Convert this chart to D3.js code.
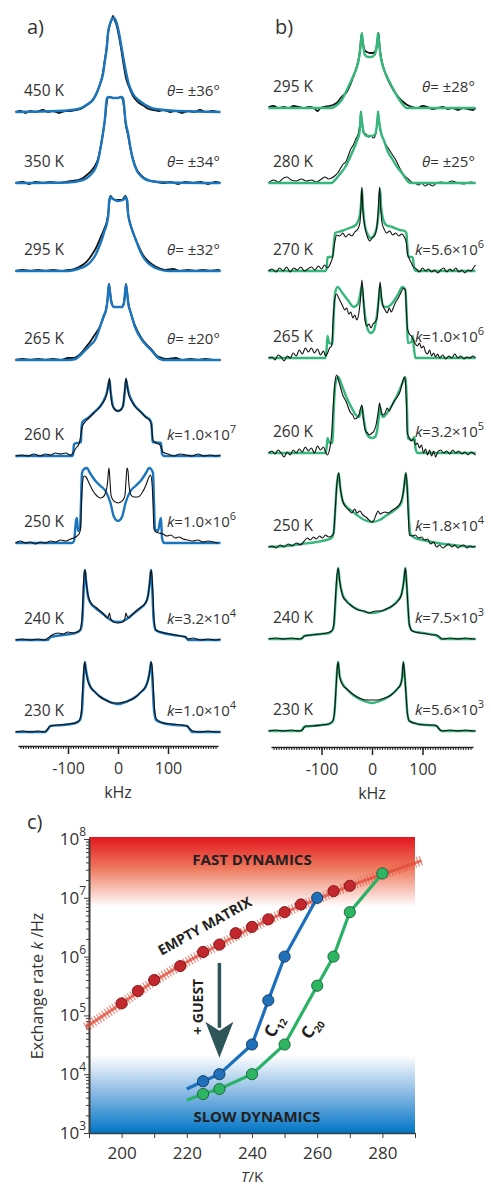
<!DOCTYPE html>
<html>
<head>
<meta charset="utf-8">
<script src="https://cdn.jsdelivr.net/npm/d3@7"></script>
<style>
  body { margin: 0; background: #fff; }
  svg { display: block; font-family: "Open Sans", sans-serif; }
</style>
</head>
<body>
<svg id="fig" width="491" height="1187"></svg>
<script>
// ---------- panel a / b labels ----------
const tempsA = ["450 K", "350 K", "295 K", "265 K", "260 K", "250 K", "240 K", "230 K"];
const paramsA = [["θ", "36"], ["θ", "34"], ["θ", "32"], ["θ", "20"], ["k", "1.0", "7"], ["k", "1.0", "6"], ["k", "3.2", "4"], ["k", "1.0", "4"]];
const tempsB = ["295 K", "280 K", "270 K", "265 K", "260 K", "250 K", "240 K", "230 K"];
const paramsB = [["θ", "28"], ["θ", "25"], ["k", "5.6", "6"], ["k", "1.0", "6"], ["k", "3.2", "5"], ["k", "1.8", "4"], ["k", "7.5", "3"], ["k", "5.6", "3"]];
const specTicks = [-100, 0, 100];

// ---------- panel a spectra: [kHz, intensity] ----------
const fitA450 = [[-205,0],[-120,1],[-80,3],[-60,8],[-50,12],[-40,22],[-35,29],[-30,38],[-26,52],[-22,66],[-20,79],[-16,88],[-12,93],[-9,94],[-6,93],[-2,88],[2,79],[8,62],[14,45],[21,29],[30,18],[41,12],[55,7],[75,3],[120,1],[205,0]];
const expA450 = [[-205,0],[-195,1],[-185,-1],[-175,1],[-165,0],[-150,2],[-140,0],[-130,1],[-118,-1],[-105,1],[-95,1],[-85,2],[-75,3],[-65,6],[-55,10],[-48,14],[-42,20],[-36,28],[-31,37],[-27,50],[-23,64],[-20,78],[-16,88],[-12,93],[-10,96],[-7,92],[-3,87],[1,78],[6,64],[11,48],[16,34],[22,25],[30,16],[40,10],[52,6],[62,3],[72,2],[82,1],[92,2],[104,0],[116,1],[128,-1],[140,1],[152,0],[164,2],[176,0],[188,1],[200,0]];
const fitA350 = [[-205,0],[-100,0.5],[-70,3],[-55,8],[-45,15],[-40,22],[-35,35],[-30,50],[-26,65],[-24,78],[-22,85],[-18,86],[-10,85],[-2,85],[6,86],[10,85],[12,78],[15,62],[20,50],[25,35],[30,23],[38,12],[48,6],[65,2],[100,0.5],[205,0]];
const expA350 = [[-205,0],[-190,1],[-178,-1],[-165,1],[-150,0],[-135,1],[-120,0],[-105,1],[-92,2],[-80,3],[-70,5],[-60,9],[-52,13],[-45,18],[-40,24],[-35,35],[-30,50],[-26,64],[-23,78],[-21,85],[-16,86],[-8,85],[0,85],[6,86],[9,84],[12,76],[15,60],[20,48],[25,34],[30,24],[37,14],[46,8],[56,4],[66,2],[78,1],[90,0],[105,1],[120,-1],[135,1],[150,0],[165,1],[180,-1],[195,1],[205,0]];
const fitA295 = [[-205,0],[-100,0],[-80,2],[-65,5],[-55,9],[-45,16],[-38,24],[-32,32],[-27,40],[-22,48],[-19,58],[-18,68],[-16,74],[-10,72],[0,70],[10,71],[16,74],[19,68],[20,58],[24,48],[29,40],[35,32],[41,24],[48,16],[58,9],[68,5],[80,2],[100,0],[205,0]];
const expA295 = [[-205,0],[-190,1],[-175,0],[-160,1],[-145,0],[-130,1],[-115,0],[-100,1],[-88,2],[-78,4],[-68,7],[-58,12],[-50,18],[-43,24],[-37,31],[-31,38],[-26,44],[-22,50],[-19,60],[-17,70],[-15,75],[-10,72],[-2,71],[8,71],[15,75],[18,68],[20,58],[24,48],[29,40],[35,32],[42,24],[50,16],[60,10],[70,6],[82,3],[95,1],[110,2],[125,0],[140,1],[155,0],[170,1],[185,0],[200,1],[205,0]];
const fitA265 = [[-205,0],[-100,0],[-85,1],[-75,5],[-65,10],[-55,15],[-46,20],[-36,33],[-28,45],[-24,50],[-21,60],[-19,72],[-18,75],[-16,68],[-13,57],[-8,53],[-1,53],[8,53],[12,57],[15,72],[16,75],[18,68],[21,55],[25,48],[34,33],[48,20],[58,14],[68,9],[78,3],[90,0],[205,0]];
const expA265 = [[-205,0],[-190,1],[-175,0],[-160,1],[-145,0],[-130,1],[-115,0],[-100,2],[-88,2],[-80,4],[-72,8],[-64,13],[-56,18],[-48,24],[-40,30],[-34,36],[-28,44],[-24,50],[-21,60],[-19,72],[-18,76],[-16,68],[-13,58],[-8,53],[0,53],[8,53],[12,58],[15,72],[16,76],[18,68],[21,56],[25,48],[32,37],[40,28],[48,21],[58,15],[68,10],[78,4],[88,2],[100,1],[115,2],[130,0],[145,1],[160,0],[175,1],[190,0],[205,0]];
const fitA260 = [[-205,0],[-92,0],[-90,1],[-88,12],[-74,14],[-73,28],[-71,34],[-60,38],[-45,45],[-35,50],[-28,56],[-22,64],[-19,72],[-17,76],[-15,66],[-10,50],[-5,46],[0,45],[5,46],[10,50],[14,66],[16,76],[18,72],[21,64],[27,56],[34,50],[44,45],[56,39],[64,36],[67,32],[69,14],[86,13],[88,2],[92,0],[205,0]];
const expA260 = [[-205,0],[-192,1],[-180,0],[-168,2],[-156,0],[-145,2],[-135,1],[-125,3],[-115,2],[-105,3],[-95,1],[-90,3],[-84,8],[-78,12],[-74,22],[-71,30],[-64,35],[-56,39],[-48,43],[-40,47],[-32,52],[-26,57],[-22,63],[-19,72],[-17,78],[-15,64],[-11,50],[-5,46],[0,45],[5,46],[10,50],[13,64],[16,78],[18,72],[21,62],[27,55],[35,49],[45,44],[55,39],[64,35],[67,30],[70,16],[76,13],[84,11],[90,4],[100,2],[112,0],[124,2],[136,1],[148,0],[160,2],[172,0],[184,1],[196,0],[205,1]];
const fitA250 = [[-205,0],[-92,0],[-88,2],[-84,22],[-82,25],[-80,12],[-76,14],[-74,40],[-72,70],[-68,74],[-62,75],[-56,70],[-45,62],[-35,57],[-25,52],[-15,40],[-8,26],[0,22],[8,26],[15,40],[25,52],[35,57],[45,62],[56,70],[62,75],[66,74],[70,70],[72,40],[74,14],[80,12],[84,22],[86,25],[88,5],[92,0],[205,0]];
const expA250 = [[-205,0],[-195,2],[-185,0],[-175,1],[-165,-1],[-155,1],[-145,0],[-135,2],[-125,1],[-115,3],[-105,2],[-95,4],[-88,5],[-82,7],[-78,9],[-75,14],[-73,40],[-71,60],[-68,67],[-64,66],[-58,60],[-50,52],[-42,47],[-36,45],[-30,46],[-25,50],[-21,60],[-19,72],[-18,75],[-16,62],[-14,48],[-10,43],[-5,41],[0,40],[5,41],[10,43],[14,48],[16,62],[18,75],[20,72],[22,58],[26,48],[32,46],[40,46],[48,50],[56,58],[62,66],[65,68],[68,60],[70,40],[72,14],[76,11],[82,10],[90,9],[98,7],[106,8],[114,5],[122,6],[130,4],[140,3],[150,2],[160,3],[170,1],[180,2],[190,1],[200,0]];
const fitA240 = [[-205,0],[-140,0],[-135,3],[-110,5],[-85,7],[-75,10],[-71,22],[-69,45],[-67,65],[-66,70],[-64,60],[-60,44],[-55,37],[-45,32],[-35,28],[-25,24],[-15,20],[0,18],[15,20],[25,24],[35,28],[45,32],[55,37],[60,44],[64,60],[66,70],[67,65],[69,45],[71,22],[75,10],[90,7],[110,5],[135,3],[140,0],[205,0]];
const expA240 = [[-205,0],[-190,1],[-175,0],[-160,1],[-148,0],[-140,2],[-132,5],[-120,7],[-110,6],[-100,8],[-90,7],[-82,8],[-76,10],[-72,22],[-70,45],[-68,65],[-66,70],[-64,60],[-60,45],[-55,38],[-45,33],[-35,29],[-27,25],[-22,22],[-19,24],[-17,27],[-15,22],[-10,18],[0,17],[10,18],[14,22],[16,27],[18,24],[22,22],[28,25],[36,29],[46,33],[55,37],[60,44],[64,60],[66,70],[68,64],[70,45],[72,22],[76,10],[85,8],[95,7],[105,6],[115,5],[125,4],[135,3],[140,1],[150,2],[165,0],[180,1],[195,0],[205,1]];
const fitA230 = [[-205,0],[-145,0],[-140,3],[-135,6],[-110,7],[-85,9],[-76,12],[-72,22],[-70,40],[-68,60],[-66,70],[-64,62],[-60,52],[-55,45],[-46,40],[-35,35],[-20,31],[0,28],[20,31],[35,35],[46,40],[55,45],[60,52],[64,62],[66,70],[68,60],[70,40],[72,22],[76,12],[90,9],[115,7],[138,6],[143,3],[148,0],[205,0]];
const expA230 = [[-205,0],[-190,1],[-175,0],[-160,1],[-148,0],[-142,2],[-136,6],[-120,7],[-100,8],[-85,9],[-77,12],[-73,22],[-71,40],[-69,58],[-67,70],[-65,64],[-61,52],[-56,46],[-48,41],[-38,36],[-25,32],[-12,29],[0,29],[12,30],[25,32],[38,36],[48,41],[56,46],[61,53],[65,66],[67,70],[69,60],[71,42],[73,24],[77,13],[90,9],[110,8],[128,7],[138,6],[144,3],[150,1],[165,0],[180,1],[195,0],[205,0]];

// ---------- panel b spectra ----------
const fitB295 = [[-205,0],[-80,0],[-72,2],[-60,8],[-47,21],[-38,31],[-30,41],[-25,52],[-22,65],[-20,75],[-18,65],[-14,53],[-8,51],[-2,51],[5,53],[10,65],[12,75],[14,65],[17,52],[22,41],[30,31],[40,21],[52,10],[62,3],[68,0],[205,0]];
const expB295 = [[-205,1],[-195,2],[-185,0],[-175,1],[-165,0],[-155,2],[-145,1],[-135,0],[-125,1],[-115,0],[-108,-3],[-102,0],[-95,1],[-85,2],[-78,3],[-70,5],[-62,10],[-56,13],[-50,16],[-44,22],[-38,30],[-31,40],[-26,50],[-23,62],[-21,73],[-19,68],[-15,58],[-10,56],[-4,55],[2,55],[8,58],[11,68],[13,75],[15,62],[18,50],[23,40],[30,30],[38,22],[46,15],[54,10],[62,6],[70,3],[80,1],[90,0],[100,2],[110,1],[120,-1],[130,0],[140,1],[150,-1],[160,0],[170,-2],[180,0],[190,-1],[200,-2],[205,0]];
const fitB280 = [[-205,0],[-80,0],[-75,2],[-65,8],[-53,16],[-45,24],[-37,33],[-30,42],[-25,50],[-23,62],[-22,71],[-20,62],[-16,50],[-10,47],[-3,47],[5,48],[9,55],[11,65],[12,71],[14,62],[18,50],[24,42],[30,33],[40,24],[50,16],[62,8],[72,1],[78,0],[205,0]];
const expB280 = [[-205,0],[-195,3],[-185,1],[-175,5],[-168,6],[-160,3],[-150,2],[-140,4],[-130,2],[-120,3],[-110,1],[-100,4],[-93,6],[-86,4],[-80,5],[-74,7],[-68,10],[-62,15],[-57,19],[-52,21],[-47,27],[-42,34],[-37,38],[-32,44],[-27,50],[-24,60],[-22,72],[-20,60],[-17,50],[-12,49],[-7,46],[-2,47],[3,45],[8,50],[10,60],[12,72],[14,60],[17,51],[22,45],[27,39],[32,35],[37,31],[42,27],[47,23],[52,18],[57,13],[62,9],[67,6],[72,4],[78,1],[85,0],[92,-2],[98,0],[105,-3],[112,-1],[120,-3],[128,0],[138,1],[148,0],[158,2],[170,0],[182,-1],[195,1],[205,0]];
const fitB270 = [[-205,0],[-92,0],[-90,2],[-88,14],[-78,14],[-76,25],[-73,38],[-60,40],[-45,43],[-32,46],[-26,52],[-22,65],[-20,82],[-18,65],[-14,45],[-8,36],[-2,33],[4,36],[10,45],[14,65],[16,82],[18,65],[22,52],[28,46],[40,44],[55,41],[65,40],[68,38],[70,25],[72,14],[80,14],[84,2],[86,0],[205,0]];
const expB270 = [[-205,0],[-198,2],[-190,-1],[-183,3],[-176,0],[-169,4],[-162,-1],[-155,3],[-148,1],[-141,4],[-134,0],[-127,2],[-120,4],[-113,1],[-106,5],[-100,2],[-94,6],[-88,3],[-82,8],[-78,14],[-74,28],[-70,36],[-64,35],[-58,38],[-52,34],[-46,37],[-40,35],[-34,39],[-28,42],[-24,48],[-22,62],[-20,84],[-18,60],[-14,44],[-9,34],[-4,30],[0,33],[5,35],[9,42],[12,58],[15,84],[17,64],[20,48],[24,42],[29,38],[35,40],[41,36],[47,38],[53,35],[59,37],[64,34],[68,28],[70,18],[74,12],[78,8],[82,4],[88,2],[94,-1],[100,3],[106,0],[112,2],[118,-1],[124,1],[130,-2],[136,1],[142,3],[148,-1],[154,2],[160,0],[166,3],[172,-1],[178,1],[184,-2],[190,1],[196,0],[202,4],[205,6]];
const fitB265 = [[-205,0],[-92,0],[-90,8],[-88,22],[-85,15],[-78,14],[-76,40],[-73,65],[-68,71],[-60,66],[-48,58],[-36,51],[-28,54],[-24,62],[-20,72],[-18,62],[-13,40],[-8,28],[-2,25],[4,28],[9,40],[14,62],[16,72],[18,62],[22,52],[30,51],[42,56],[52,64],[60,71],[66,68],[69,40],[71,15],[78,16],[81,22],[83,10],[86,0],[205,0]];
const expB265 = [[-205,0],[-198,1],[-192,-2],[-186,3],[-180,1],[-174,-3],[-168,2],[-162,0],[-156,5],[-150,2],[-144,8],[-138,4],[-132,10],[-126,6],[-120,10],[-114,5],[-108,9],[-102,3],[-96,7],[-92,2],[-88,5],[-84,10],[-80,12],[-77,38],[-74,58],[-70,64],[-66,60],[-62,56],[-58,52],[-54,48],[-50,50],[-46,44],[-42,46],[-38,40],[-34,43],[-30,38],[-26,45],[-23,58],[-20,78],[-17,60],[-14,38],[-10,32],[-6,34],[-2,30],[2,34],[6,36],[10,40],[13,58],[16,76],[19,60],[22,52],[26,48],[30,45],[34,50],[38,46],[42,50],[46,55],[52,60],[58,66],[62,70],[66,68],[68,48],[70,30],[74,24],[78,22],[82,18],[86,14],[90,12],[94,15],[98,10],[102,12],[106,6],[110,4],[114,8],[118,2],[122,5],[126,1],[130,4],[134,0],[140,3],[146,-1],[152,2],[158,0],[164,4],[170,0],[176,2],[182,-1],[188,1],[194,0],[200,2],[205,0]];
const fitB260 = [[-205,0],[-92,0],[-90,5],[-88,15],[-84,10],[-78,10],[-76,40],[-72,70],[-67,76],[-60,68],[-50,55],[-40,45],[-32,38],[-26,36],[-22,42],[-20,46],[-17,36],[-12,22],[-6,16],[0,15],[6,16],[10,22],[14,38],[16,46],[18,40],[22,36],[30,40],[40,48],[52,60],[62,72],[66,76],[69,50],[71,15],[80,13],[84,16],[86,5],[90,0],[205,0]];
const expB260 = [[-205,0],[-198,2],[-192,-1],[-186,3],[-180,0],[-174,-4],[-168,1],[-162,-2],[-156,3],[-150,0],[-144,4],[-138,1],[-132,6],[-126,2],[-120,5],[-114,0],[-108,7],[-102,3],[-96,6],[-92,1],[-88,-2],[-84,4],[-80,18],[-77,45],[-74,68],[-70,78],[-66,72],[-62,65],[-58,58],[-54,54],[-50,50],[-46,44],[-42,40],[-38,38],[-34,34],[-30,35],[-26,38],[-23,44],[-20,48],[-17,34],[-13,22],[-9,20],[-5,18],[0,20],[4,22],[8,28],[12,40],[15,50],[18,42],[22,38],[26,40],[30,45],[34,42],[38,46],[44,52],[50,56],[56,62],[60,70],[64,76],[66,72],[68,52],[70,20],[74,15],[78,12],[82,14],[86,8],[90,10],[94,5],[98,8],[102,0],[106,4],[110,-2],[114,3],[118,-3],[122,2],[126,-4],[130,1],[136,3],[142,0],[148,2],[154,-1],[160,3],[166,0],[172,2],[178,-1],[184,1],[190,-2],[196,1],[205,-2]];
const fitB250 = [[-205,0],[-170,1],[-140,3],[-110,5],[-90,7],[-80,9],[-76,14],[-73,35],[-70,60],[-66,74],[-63,60],[-58,46],[-50,40],[-40,36],[-30,32],[-15,27],[0,25],[15,27],[30,32],[40,35],[50,39],[58,44],[63,58],[67,74],[70,58],[73,30],[76,13],[85,9],[100,7],[130,4],[160,2],[205,0]];
const expB250 = [[-205,0],[-198,1],[-190,-1],[-182,2],[-174,0],[-166,3],[-158,1],[-150,4],[-142,2],[-134,6],[-128,9],[-122,7],[-116,10],[-110,8],[-104,11],[-98,9],[-92,12],[-86,10],[-80,11],[-76,14],[-73,35],[-70,60],[-66,74],[-63,60],[-58,46],[-52,40],[-46,37],[-40,34],[-34,38],[-30,34],[-24,36],[-18,32],[-12,30],[-6,27],[0,25],[4,27],[8,32],[12,36],[16,33],[20,34],[26,35],[32,34],[38,36],[44,38],[50,40],[56,44],[61,52],[64,62],[67,74],[70,56],[72,30],[74,12],[80,11],[86,12],[92,9],[98,10],[104,7],[110,8],[116,3],[122,5],[128,0],[134,2],[140,-1],[146,1],[152,3],[158,0],[164,2],[170,-1],[176,1],[182,2],[188,-1],[194,1],[200,0],[205,1]];
const fitB240 = [[-205,0],[-140,0],[-135,3],[-120,4],[-100,5],[-85,6],[-78,9],[-75,16],[-72,40],[-69,62],[-67,71],[-64,58],[-58,44],[-50,38],[-40,33],[-25,29],[0,26],[25,29],[40,33],[50,38],[58,44],[63,58],[66,71],[68,60],[71,35],[74,14],[80,8],[100,6],[125,4],[132,2],[137,0],[205,0]];
const expB240 = [[-205,0],[-190,1],[-175,0],[-160,1],[-145,0],[-138,1],[-133,3],[-120,4],[-105,5],[-90,6],[-80,8],[-76,13],[-73,35],[-70,60],[-67,71],[-64,58],[-58,43],[-50,37],[-40,33],[-28,29],[-15,28],[-5,26],[0,27],[8,28],[18,28],[28,30],[40,33],[50,37],[58,44],[63,58],[66,71],[68,60],[71,35],[74,14],[80,8],[95,6],[110,5],[120,4],[128,4],[134,2],[140,0],[155,1],[170,0],[185,1],[200,0],[205,0]];
const fitB230 = [[-205,0],[-140,0],[-135,4],[-120,5],[-100,6],[-85,7],[-77,10],[-74,20],[-71,45],[-69,62],[-67,69],[-64,55],[-58,47],[-50,42],[-35,35],[-15,30],[0,28],[15,30],[35,35],[50,42],[57,47],[60,55],[62,69],[64,60],[67,40],[70,18],[74,10],[90,7],[110,6],[128,5],[133,2],[137,0],[205,0]];
const expB230 = [[-205,0],[-190,1],[-175,0],[-160,1],[-145,0],[-136,2],[-132,5],[-118,5],[-100,6],[-86,7],[-78,10],[-74,20],[-71,45],[-69,62],[-67,69],[-64,54],[-58,46],[-50,42],[-38,37],[-25,33],[-12,31],[0,31],[12,31],[25,33],[38,36],[50,42],[57,47],[60,56],[62,69],[64,60],[67,40],[70,18],[74,10],[90,7],[108,6],[122,6],[128,5],[133,2],[140,0],[155,1],[170,0],[185,1],[200,0],[205,0]];

// ---------- panel c ----------
const emptyT = [200, 205, 210, 218, 225, 230, 235, 240, 245, 250, 255, 265, 270];
const emptyK = [1.6e5, 2.6e5, 4.0e5, 6.9e5, 1.2e6, 1.6e6, 2.5e6, 3.2e6, 4.3e6, 5.7e6, 7.7e6, 1.3e7, 1.6e7];
const emptyFitT = [189, 200, 210, 220, 230, 240, 250, 260, 270, 280, 292];
const emptyFitK = [6.3e4, 1.6e5, 3.8e5, 8.1e5, 1.6e6, 3.1e6, 5.6e6, 9.5e6, 1.6e7, 2.5e7, 4.3e7];
const c12T = [225, 230, 240, 245, 250, 260];
const c12K = [7.6e3, 1.0e4, 3.2e4, 1.8e5, 1.0e6, 1.0e7];
const c12Start = [220, 5.6e3];
const c20T = [225, 230, 240, 250, 260, 265, 270, 280];
const c20K = [4.6e3, 5.6e3, 1.0e4, 3.2e4, 3.2e5, 1.0e6, 5.7e6, 2.6e7];
const c20Start = [220, 3.6e3];
const kDecades = [1e3, 1e4, 1e5, 1e6, 1e7, 1e8];
const tTicks = [190, 200, 210, 220, 230, 240, 250, 260, 270, 280, 290];

const svg = d3.select("#fig");
const ink = "#333";

// ---------- spectra ----------
const xA = d3.scaleLinear().domain([-200, 200]).range([18, 218]);
const xB = d3.scaleLinear().domain([-200, 200]).range([271, 473]);
const yInt = d3.scaleLinear().domain([0, 100]).range([0, -100]);
const rowsA = [112, 183, 271, 360, 456, 543, 640, 732];
const rowsB = [108, 183, 271, 358, 453, 547, 639, 731];

function drawSpectra(x, rows, fits, exps, color, temps, params, opt) {
  const line = d3.line()
    .x((d) => x(d[0]))
    .y((d) => yInt(d[1]))
    .curve(d3.curveMonotoneX);
  rows.forEach((base, i) => {
    const row = svg.append("g").attr("transform", `translate(0,${base})`);
    const fit = () => row.append("path").datum(fits[i])
      .attr("d", line).attr("fill", "none").attr("stroke", color)
      .attr("stroke-width", 2.4).attr("stroke-linejoin", "round");
    const exp = () => row.append("path").datum(exps[i])
      .attr("d", line).attr("fill", "none").attr("stroke", "#111")
      .attr("stroke-width", i < opt.thick ? 1.8 : 1.1).attr("stroke-linejoin", "round");
    if (i < opt.fitOnTop) { exp(); fit(); } else { fit(); exp(); }

    row.append("text").attr("x", opt.labX).attr("y", -16)
      .attr("font-size", 15.5).attr("fill", ink).text(temps[i]);
    const p = params[i];
    const t = row.append("text")
      .attr("x", p[0] === "θ" ? opt.thX : opt.kX).attr("y", -16)
      .attr("font-size", 15).attr("fill", ink);
    t.append("tspan").attr("font-style", "italic").text(p[0]);
    if (p[0] === "θ") {
      t.append("tspan").text("= ±" + p[1] + "°");
    } else {
      t.append("tspan").text("=" + p[1] + "×10");
      t.append("tspan").attr("dy", -7).attr("font-size", 11).text(p[2]);
    }
  });
}

function specAxis(x, y) {
  const g = svg.append("g").attr("transform", `translate(0,${y})`);
  g.append("g")
    .call(d3.axisBottom(x).tickValues(d3.range(-195, 200, 5)).tickSize(3).tickSizeOuter(0).tickFormat(""))
    .call((a) => a.select(".domain").attr("stroke-width", 2));
  g.append("g")
    .call(d3.axisBottom(x).tickValues(specTicks).tickSize(8).tickPadding(9).tickFormat((d) => String(d)))
    .call((a) => a.select(".domain").remove())
    .call((a) => a.selectAll("line").attr("stroke-width", 1.5))
    .call((a) => a.selectAll("text").attr("font-size", 16).attr("fill", ink).attr("font-family", "Open Sans"));
  g.selectAll("line, path").attr("stroke", "#222");
  svg.append("text").attr("x", x(0)).attr("y", y + 52).attr("text-anchor", "middle")
    .attr("font-size", 16).attr("fill", ink).text("kHz");
}

drawSpectra(xA, rowsA,
  [fitA450, fitA350, fitA295, fitA265, fitA260, fitA250, fitA240, fitA230],
  [expA450, expA350, expA295, expA265, expA260, expA250, expA240, expA230],
  "#1b75bc", tempsA, paramsA, { labX: 24, thX: 167, kX: 167, fitOnTop: 4, thick: 4 });
drawSpectra(xB, rowsB,
  [fitB295, fitB280, fitB270, fitB265, fitB260, fitB250, fitB240, fitB230],
  [expB295, expB280, expB270, expB265, expB260, expB250, expB240, expB230],
  "#35b77c", tempsB, paramsB, { labX: 273, thX: 422, kX: 415, fitOnTop: 2, thick: 1 });
specAxis(xA, 746);
specAxis(xB, 747);

svg.append("text").attr("x", 27).attr("y", 34).attr("font-size", 20).attr("fill", ink).text("a)");
svg.append("text").attr("x", 275).attr("y", 34).attr("font-size", 20).attr("fill", ink).text("b)");
svg.append("text").attr("x", 27).attr("y", 829).attr("font-size", 20).attr("fill", ink).text("c)");

// ---------- panel c ----------
const xC = d3.scaleLinear().domain([190, 290]).range([89, 415]);
const yC = d3.scaleLog().domain([1e3, 1e8]).range([1133, 839]);

const defs = svg.append("defs");
const red = defs.append("linearGradient").attr("id", "fast").attr("x1", 0).attr("y1", 0).attr("x2", 0).attr("y2", 1);
red.append("stop").attr("offset", 0).attr("stop-color", "#e3161f");
red.append("stop").attr("offset", 0.45).attr("stop-color", "#ee7a5e");
red.append("stop").attr("offset", 1).attr("stop-color", "#ffffff");
const blue = defs.append("linearGradient").attr("id", "slow").attr("x1", 0).attr("y1", 0).attr("x2", 0).attr("y2", 1);
blue.append("stop").attr("offset", 0).attr("stop-color", "#ffffff");
blue.append("stop").attr("offset", 0.5).attr("stop-color", "#86b8e2");
blue.append("stop").attr("offset", 1).attr("stop-color", "#0076c6");

svg.append("rect").attr("x", xC(190)).attr("width", xC(290) - xC(190))
  .attr("y", yC(1e8) - 2).attr("height", yC(7e6) - yC(1e8) + 2).attr("fill", "url(#fast)");
svg.append("rect").attr("x", xC(190)).attr("width", xC(290) - xC(190))
  .attr("y", yC(2.1e4)).attr("height", yC(1e3) - yC(2.1e4)).attr("fill", "url(#slow)");

svg.append("text").attr("x", xC(240)).attr("y", yC(4.4e7)).attr("dy", "0.35em")
  .attr("text-anchor", "middle").attr("font-weight", "bold").attr("font-size", 15)
  .attr("fill", "#231f20").text("FAST DYNAMICS");
svg.append("text").attr("x", xC(241.5)).attr("y", yC(1.9e3)).attr("dy", "0.35em")
  .attr("text-anchor", "middle").attr("font-weight", "bold").attr("font-size", 15)
  .attr("fill", "#231f20").text("SLOW DYNAMICS");

// axes
const xAxisC = svg.append("g").attr("transform", `translate(0,${yC(1e3)})`)
  .call(d3.axisBottom(xC).tickValues(tTicks).tickSize(5).tickSizeOuter(0).tickPadding(9)
    .tickFormat((d) => (d % 20 === 0 && d > 190 && d < 290 ? d : "")));
xAxisC.selectAll("text").attr("font-size", 17).attr("fill", ink).attr("font-family", "Open Sans");

const minorK = [];
kDecades.slice(0, -1).forEach((dec) => d3.range(2, 10).forEach((m) => minorK.push(dec * m)));
const yAxisC = svg.append("g").attr("transform", `translate(${xC(190)},0)`);
yAxisC.append("g").call(d3.axisLeft(yC).tickValues(minorK).tickSize(3).tickSizeOuter(0).tickFormat(""));
yAxisC.append("g").call(d3.axisLeft(yC).tickValues(kDecades).tickSize(5).tickSizeOuter(0).tickFormat(""));
svg.selectAll("g path.domain").attr("stroke-width", 1.6);
[xAxisC, yAxisC].forEach((a) => a.selectAll("line, path").attr("stroke", "#3c3c3c"));

kDecades.forEach((k) => {
  const t = svg.append("text").attr("x", 86).attr("y", yC(k) + 6)
    .attr("text-anchor", "end").attr("font-size", 17).attr("fill", ink);
  t.append("tspan").text("10");
  t.append("tspan").attr("dy", -9).attr("font-size", 12).text(Math.round(Math.log10(k)));
});

const yl = svg.append("text").attr("transform", `translate(43,${(yC(1e3) + yC(1e8)) / 2}) rotate(-90)`)
  .attr("text-anchor", "middle").attr("font-size", 16).attr("fill", ink);
yl.append("tspan").text("Exchange rate ");
yl.append("tspan").attr("font-style", "italic").text("k");
yl.append("tspan").text(" /Hz");

const xl = svg.append("text").attr("x", xC(240)).attr("y", 1182)
  .attr("text-anchor", "middle").attr("font-size", 15).attr("fill", ink);
xl.append("tspan").attr("font-style", "italic").text("T");
xl.append("tspan").text("/K");

// empty matrix hatched fit
const fitLine = d3.line().x((d) => xC(d[0])).y((d) => yC(d[1])).curve(d3.curveMonotoneX);
const emptyFit = emptyFitT.map((t, i) => [t, emptyFitK[i]]);
svg.append("path").datum(emptyFit).attr("d", fitLine).attr("fill", "none")
  .attr("stroke", "#e8604c").attr("stroke-width", 10).attr("stroke-dasharray", "1.1,2")
  .attr("opacity", 0.8);
svg.append("path").datum(emptyFit).attr("d", fitLine).attr("fill", "none")
  .attr("stroke", "#df4b3a").attr("stroke-width", 3).attr("opacity", 0.75);

// series lines
const segLine = d3.line().x((d) => xC(d[0])).y((d) => yC(d[1]));
const c12 = [c12Start].concat(c12T.map((t, i) => [t, c12K[i]]));
const c20 = [c20Start].concat(c20T.map((t, i) => [t, c20K[i]]));
svg.append("path").datum(c12).attr("d", segLine).attr("fill", "none")
  .attr("stroke", "#1b6fbd").attr("stroke-width", 3.2);
svg.append("path").datum(c20).attr("d", segLine).attr("fill", "none")
  .attr("stroke", "#2bb266").attr("stroke-width", 3.2);

function dots(T, K, fill, stroke) {
  svg.append("g").selectAll("circle").data(T.map((t, i) => [t, K[i]])).join("circle")
    .attr("cx", (d) => xC(d[0])).attr("cy", (d) => yC(d[1])).attr("r", 5.6)
    .attr("fill", fill).attr("stroke", stroke).attr("stroke-width", 0.9);
}
dots(emptyT, emptyK, "#c1272d", "#7d1518");
dots(c12T, c12K, "#1f70b8", "#10375e");
dots(c20T, c20K, "#2db562", "#15603a");

// annotations
svg.append("text")
  .attr("transform", `translate(${xC(225.5)},${yC(3.3e6)}) rotate(-29)`)
  .attr("dy", "0.35em").attr("text-anchor", "middle").attr("font-weight", "bold")
  .attr("font-size", 14).attr("fill", "#231f20").text("EMPTY MATRIX");
svg.append("text")
  .attr("transform", `translate(${xC(223.4)},${yC(1.4e5)}) rotate(-90)`)
  .attr("dy", "0.35em").attr("text-anchor", "middle").attr("font-weight", "bold")
  .attr("font-size", 14).attr("fill", "#231f20").text("+ GUEST");

const ax = xC(230), aTop = yC(7.8e5), aTip = yC(1.9e4), aHead = 36, aHalf = 14;
svg.append("line").attr("x1", ax).attr("x2", ax).attr("y1", aTop).attr("y2", aTip - aHead + 6)
  .attr("stroke", "#2e5659").attr("stroke-width", 3.5);
svg.append("path")
  .attr("d", `M${ax - aHalf},${aTip - aHead} L${ax},${aTip - aHead + 9} L${ax + aHalf},${aTip - aHead} L${ax},${aTip} Z`)
  .attr("fill", "#2e5659");

function chainLabel(T, K, sub, angle) {
  const t = svg.append("text")
    .attr("transform", `translate(${xC(T)},${yC(K)}) rotate(${angle})`)
    .attr("text-anchor", "middle").attr("dy", "0.35em")
    .attr("font-weight", "bold").attr("font-size", 17).attr("fill", "#231f20");
  t.append("tspan").text("C");
  t.append("tspan").attr("dy", 4).attr("font-size", 10).text(sub);
}
chainLabel(246.7, 6.6e4, "12", -62);
chainLabel(258.1, 6.2e4, "20", -55);
</script>
</body>
</html>
